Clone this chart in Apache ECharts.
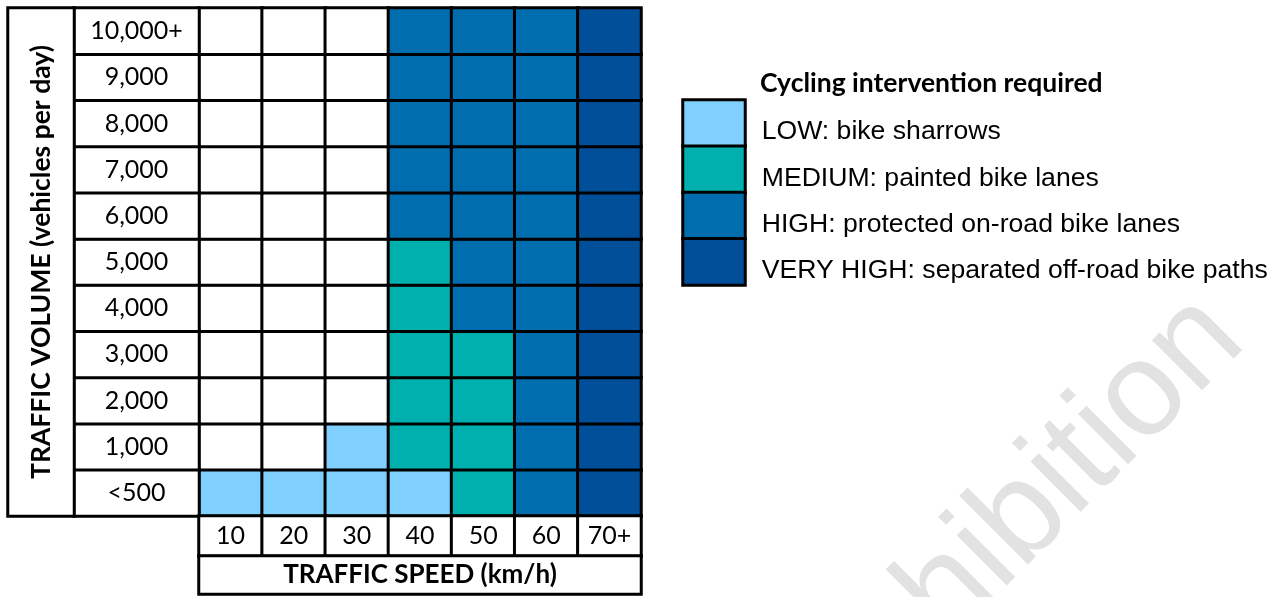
<!DOCTYPE html>
<html><head><meta charset="utf-8">
<script src="https://cdn.jsdelivr.net/npm/echarts@6/dist/echarts.min.js"></script>
<style>html,body{margin:0;padding:0;background:#fff}#c{width:1280px;height:597px}</style>
</head><body><div id="c"></div>
<script>
// ---- data ----
const speeds = ['10', '20', '30', '40', '50', '60', '70+'];
const volumes = ['<500', '1,000', '2,000', '3,000', '4,000', '5,000', '6,000', '7,000', '8,000', '9,000', '10,000+'];
const levelNames = ['LOW: bike sharrows', 'MEDIUM: painted bike lanes', 'HIGH: protected on-road bike lanes', 'VERY HIGH: separated off-road bike paths'];
// intervention level per speed column (0 = none, 1 = LOW, 2 = MEDIUM, 3 = HIGH, 4 = VERY HIGH)
const row_lt500 = [1, 1, 1, 1, 2, 3, 4];
const row_1000  = [0, 0, 1, 2, 2, 3, 4];
const row_2000  = [0, 0, 0, 2, 2, 3, 4];
const row_3000  = [0, 0, 0, 2, 2, 3, 4];
const row_4000  = [0, 0, 0, 2, 3, 3, 4];
const row_5000  = [0, 0, 0, 2, 3, 3, 4];
const row_6000  = [0, 0, 0, 3, 3, 3, 4];
const row_7000  = [0, 0, 0, 3, 3, 3, 4];
const row_8000  = [0, 0, 0, 3, 3, 3, 4];
const row_9000  = [0, 0, 0, 3, 3, 3, 4];
const row_10000 = [0, 0, 0, 3, 3, 3, 4];
const xTitle = 'TRAFFIC SPEED (km/h)';
const yTitle = 'TRAFFIC VOLUME (vehicles per day)';
const legendTitle = 'Cycling intervention required';
const watermark = 'Exhibition';

// ---- styles ----
const palette = ['#FFFFFF', '#7FD0FE', '#00B0AE', '#006EAE', '#004F98'];
const rows = [row_lt500, row_1000, row_2000, row_3000, row_4000, row_5000, row_6000, row_7000, row_8000, row_9000, row_10000];
const tableFont = 'Lato';
const cellBorder = { borderColor: '#000', borderWidth: 3 };
const txt = { show: true, color: '#000', fontFamily: tableFont, fontSize: 25 };

const mainData = [];
rows.forEach((r, yi) => r.forEach((lv, xi) => {
  mainData.push({ value: [xi, yi, lv], itemStyle: { color: palette[lv] } });
}));
const yLabelData = volumes.map((v, i) => ({ value: [0, i, 0], name: v, itemStyle: { color: '#fff' } }));
const xLabelData = speeds.map((s, i) => ({ value: [i, 0, 0], name: s, itemStyle: { color: '#fff' } }));
const legendData = levelNames.map((n, i) => ({ value: [0, i, i + 1], name: n, itemStyle: { color: palette[i + 1] } }));

const grids = [
  { left: 199, top: 8, width: 442, height: 508 },   // 0 main
  { left: 74, top: 8, width: 125, height: 508 },    // 1 y labels
  { left: 8, top: 8, width: 66, height: 508 },      // 2 y title
  { left: 199, top: 516, width: 442, height: 40 },  // 3 x labels
  { left: 199, top: 556, width: 442, height: 38 },  // 4 x title
  { left: 683, top: 100, width: 62, height: 185 }   // 5 legend
];
const one = [''];
const xAxes = [speeds, one, one, speeds, one, one].map((d, i) => ({ type: 'category', gridIndex: i, data: d, show: false }));
const yAxes = [volumes, volumes, one, one, one, levelNames].map((d, i) => ({ type: 'category', gridIndex: i, data: d, show: false, inverse: i === 5 }));

function hm(idx, data, label) {
  return {
    type: 'heatmap', xAxisIndex: idx, yAxisIndex: idx, data: data,
    itemStyle: cellBorder, label: label || { show: false },
    emphasis: { disabled: true }, silent: true
  };
}

const option = {
  animation: false,
  backgroundColor: '#fff',
  title: {
    text: legendTitle, left: 760, top: 70, padding: 0,
    textStyle: { fontFamily: tableFont, fontWeight: 'bold', fontSize: 26.5, color: '#000' }
  },
  grid: grids,
  xAxis: xAxes,
  yAxis: yAxes,
  series: [
    hm(0, mainData),
    hm(1, yLabelData, Object.assign({}, txt, { formatter: '{b}' })),
    hm(2, [{ value: [0, 0, 0], name: yTitle, itemStyle: { color: '#fff' } }], Object.assign({}, txt, { formatter: '{b}', rotate: 90, fontWeight: 'bold', fontSize: 26.5 })),
    hm(3, xLabelData, Object.assign({}, txt, { formatter: '{b}' })),
    hm(4, [{ value: [0, 0, 0], name: xTitle, itemStyle: { color: '#fff' } }], Object.assign({}, txt, { formatter: '{b}', fontWeight: 'bold', fontSize: 26 })),
    hm(5, legendData, { show: true, formatter: '{b}', position: 'right', distance: 15, offset: [0, 9], color: '#000', fontFamily: 'Liberation Sans', fontSize: 26.6 })
  ],
  graphic: [{
    type: 'text', x: 1222, y: 318, rotation: Math.PI / 4, z: -10, silent: true,
    style: { text: watermark, font: '134px "Liberation Sans"', fill: '#E2E2E2', align: 'right', verticalAlign: 'middle' }
  }]
};
const chart = echarts.init(document.getElementById('c'), null, { renderer: 'canvas' });
chart.setOption(option);
</script>
</body></html>
